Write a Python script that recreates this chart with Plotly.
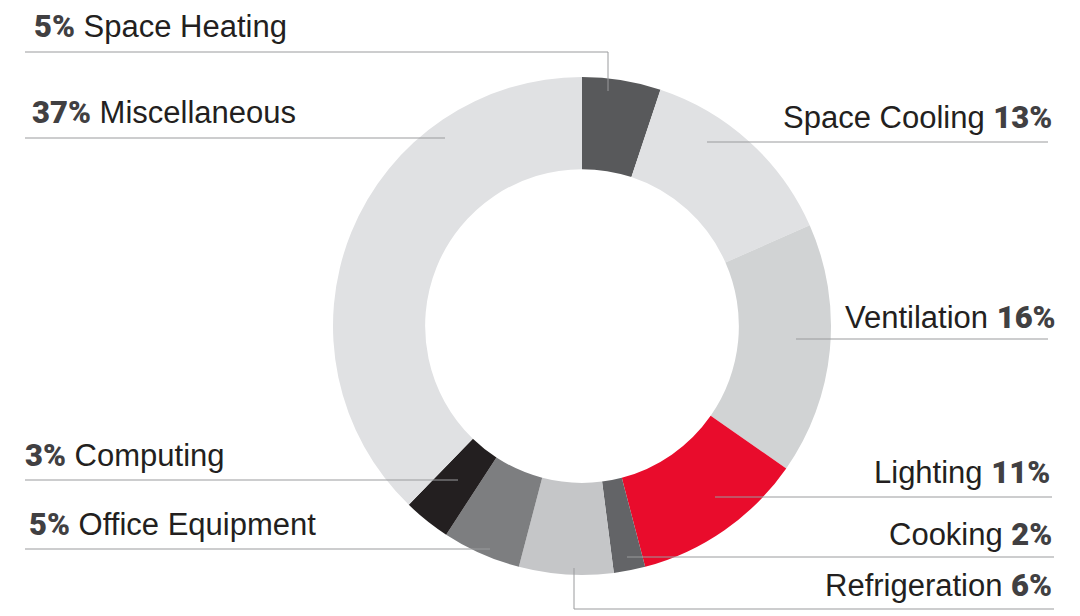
import plotly.graph_objects as go

# ---- data ----
categories = ["Space Heating", "Space Cooling", "Ventilation", "Lighting", "Cooking",
              "Refrigeration", "Office Equipment", "Computing", "Miscellaneous"]
shares = [5, 13, 16, 11, 2, 6, 5, 3, 37]
colors = ["#58595b", "#e0e1e3", "#d1d3d4", "#e90c2c", "#636467",
          "#c5c6c8", "#7d7e80", "#231f20", "#e0e1e3"]

W, H = 1080, 616

fig = go.Figure(go.Pie(
    labels=categories, values=shares, sort=False, direction="clockwise", rotation=0,
    hole=0.63, marker=dict(colors=colors, line=dict(width=0)),
    textinfo="none", hoverinfo="label+value", showlegend=False,
    domain=dict(x=[333 / W, 831 / W], y=[1 - 575 / H, 1 - 77 / H]),
))

# label layout: (side, text x px, text y px, leader polyline px)
label_layout = {
    "Space Heating":    ("left", 32, 27, [(25, 52), (608, 52), (608, 91)]),
    "Miscellaneous":    ("left", 30, 113, [(25, 138), (445, 138)]),
    "Computing":        ("left", 23, 455, [(25, 480), (458, 480)]),
    "Office Equipment": ("left", 27, 524, [(25, 549), (490, 549)]),
    "Space Cooling":    ("right", 1054, 117, [(707, 142), (1048, 142)]),
    "Ventilation":      ("right", 1058, 317, [(796, 339), (1048, 339)]),
    "Lighting":         ("right", 1052, 472, [(715, 497), (1052, 497)]),
    "Cooking":          ("right", 1054, 534, [(627, 557), (1054, 557)]),
    "Refrigeration":    ("right", 1054, 585, [(574, 568), (574, 609), (1054, 609)]),
}

FONT = "Liberation Sans, Arial, sans-serif"
annotations, shapes = [], []
for cat, val in zip(categories, shares):
    side, tx, ty, pts = label_layout[cat]
    pct = (f"<span style='font-family:Roboto;font-weight:900;color:#414042'>"
           f"{val}%</span>")
    text = f"{pct} {cat}" if side == "left" else f"{cat} {pct}"
    annotations.append(dict(
        x=tx / W, y=1 - ty / H, xref="paper", yref="paper",
        xanchor=side, yanchor="middle", text=text, showarrow=False,
        font=dict(family=FONT, size=31, color="#231f20")))
    for (x0, y0), (x1, y1) in zip(pts[:-1], pts[1:]):
        shapes.append(dict(type="line", xref="paper", yref="paper",
                           x0=x0 / W, y0=1 - y0 / H, x1=x1 / W, y1=1 - y1 / H,
                           line=dict(color="#9a9b9d", width=1)))

fig.update_layout(
    width=W, height=H, margin=dict(l=0, r=0, t=0, b=0),
    paper_bgcolor="white", plot_bgcolor="white",
    annotations=annotations, shapes=shapes,
)

fig.write_html("out.html", config={"displayModeBar": False},
               post_script="document.body.style.margin='0';")
